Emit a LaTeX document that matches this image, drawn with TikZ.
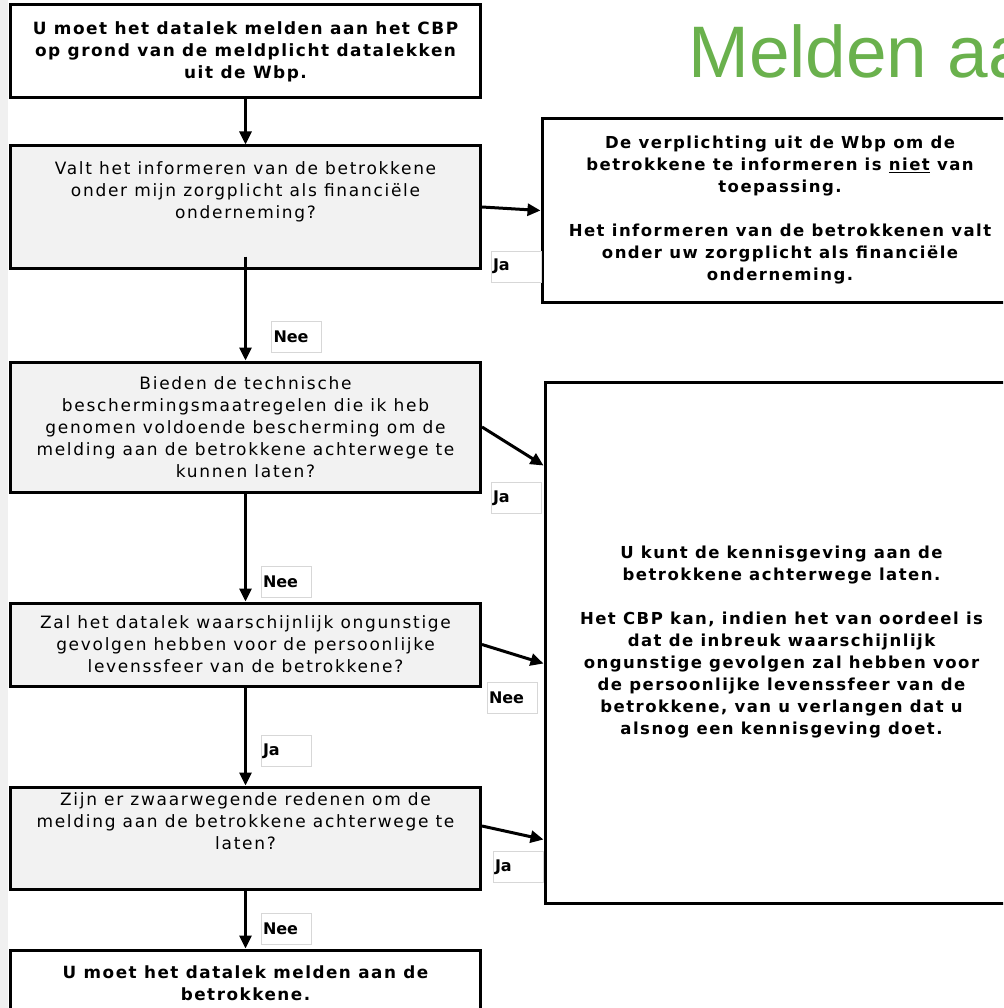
\documentclass[tikz,border=0pt]{standalone}
\usepackage{fontspec}
\setmainfont{DejaVu Sans}
\newfontfamily\titlefont{Liberation Sans}
\newfontfamily\plainfont[LetterSpace=10]{DejaVu Sans}
\newfontfamily\heavyfont[LetterSpace=9]{DejaVu Sans}
\usetikzlibrary{arrows.meta}

\definecolor{titlegreen}{RGB}{106,177,77}
\definecolor{qgray}{RGB}{242,242,242}
\definecolor{stripgray}{RGB}{240,240,240}
\definecolor{labelgray}{RGB}{215,215,215}

\tikzset{
	vraag/.style={rectangle, draw=black, fill=qgray, line width=3pt, minimum width=470pt, inner sep=0pt, align=center, font=\plainfont\fontsize{17}{22}\selectfont},
	besluit/.style={rectangle, draw=black, fill=white, line width=3pt, inner sep=0pt, align=center, font=\heavyfont\bfseries\fontsize{16.5}{22}\selectfont},
	keuze/.style={rectangle, draw=labelgray, fill=white, line width=0.8pt, minimum height=31pt, inner xsep=2pt, text width=46pt, align=left, font=\bfseries\fontsize{16}{18}\selectfont},
	pijl/.style={-{Triangle[length=13pt,width=12pt]}, line width=3pt},
}

\begin{document}
\begin{tikzpicture}[x=1pt, y=-1pt]
		
		\useasboundingbox (0,0) rectangle (1003,1008);
		\clip (0,0) rectangle (1003,1008);
		\fill[stripgray] (0,0) rectangle (8,1008);
		
		% Title
		\node[anchor=base west, inner sep=0pt, text=titlegreen, font=\titlefont\fontsize{73}{80}\selectfont] (titel) at (688,78) {Melden aan};
		
		% Left column
		\node[besluit, minimum width=470pt, minimum height=93pt, font=\heavyfont\bfseries\fontsize{16.9}{22}\selectfont] (start) at (245.5,51.5) {U moet het datalek melden aan het CBP\\op grond van de meldplicht datalekken\\uit de Wbp.};
		\node[vraag, minimum height=122pt] (zorg) at (245.5,207) {Valt het informeren van de betrokkene\\onder mijn zorgplicht als financiële\\onderneming?\\[12pt]~};
		\node[vraag, minimum height=130pt] (techniek) at (245.5,427) {Bieden de technische\\beschermingsmaatregelen die ik heb\\genomen voldoende bescherming om de\\melding aan de betrokkene achterwege te\\kunnen laten?};
		\node[vraag, minimum height=83pt] (gevolgen) at (245.5,644.5) {Zal het datalek waarschijnlijk ongunstige\\gevolgen hebben voor de persoonlijke\\levenssfeer van de betrokkene?};
		\node[vraag, minimum height=102pt] (redenen) at (245.5,838) {Zijn er zwaarwegende redenen om de\\melding aan de betrokkene achterwege te\\laten?\\[12pt]~};
		\node[besluit, minimum width=470pt, minimum height=66pt, font=\heavyfont\bfseries\fontsize{16.8}{22}\selectfont] (melden) at (245.5,983) {U moet het datalek melden aan de\\betrokkene.};
		
		% Right column
		\node[besluit, minimum width=476pt, minimum height=183pt] (zorgplicht) at (780,210.5) {De verplichting uit de Wbp om de\\betrokkene te informeren is \underline{niet} van\\toepassing.\\[22pt]Het informeren van de betrokkenen valt\\onder uw zorgplicht als financiële\\onderneming.};
		\node[besluit, minimum width=473pt, minimum height=521pt] (achterwege) at (781.5,642.5) {U kunt de kennisgeving aan de\\betrokkene achterwege laten.\\[22pt]Het CBP kan, indien het van oordeel is\\dat de inbreuk waarschijnlijk\\ongunstige gevolgen zal hebben voor\\de persoonlijke levenssfeer van de\\betrokkene, van u verlangen dat u\\alsnog een kennisgeving doet.};
		
		% Connect
		\draw[pijl] (start) -- (zorg);
		\draw[pijl] (zorg.east) -- (zorgplicht.west);
		\draw[pijl] ([yshift=13pt]zorg.south) -- (techniek.north);
		\draw[pijl] (techniek.east) -- ([yshift=-85pt]achterwege.north west);
		\draw[pijl] (techniek) -- (gevolgen);
		\draw[pijl] (gevolgen.east) -- ([yshift=-283pt]achterwege.north west);
		\draw[pijl] (gevolgen) -- (redenen);
		\draw[pijl] ([yshift=12pt]redenen.east) -- ([yshift=-459pt]achterwege.north west);
		\draw[pijl] (redenen) -- (melden);
		
		% Answers
		\node[keuze] (ja1) at (516,266.5) {Ja};
		\node[keuze] (nee1) at (296.5,337) {Nee};
		\node[keuze] (ja2) at (516,498) {Ja};
		\node[keuze] (nee2) at (286,581.5) {Nee};
		\node[keuze] (nee3) at (512,697.5) {Nee};
		\node[keuze] (ja3) at (286,751) {Ja};
		\node[keuze] (ja4) at (518,867) {Ja};
		\node[keuze] (nee4) at (286,928.5) {Nee};
		
	\end{tikzpicture}
\end{document}
